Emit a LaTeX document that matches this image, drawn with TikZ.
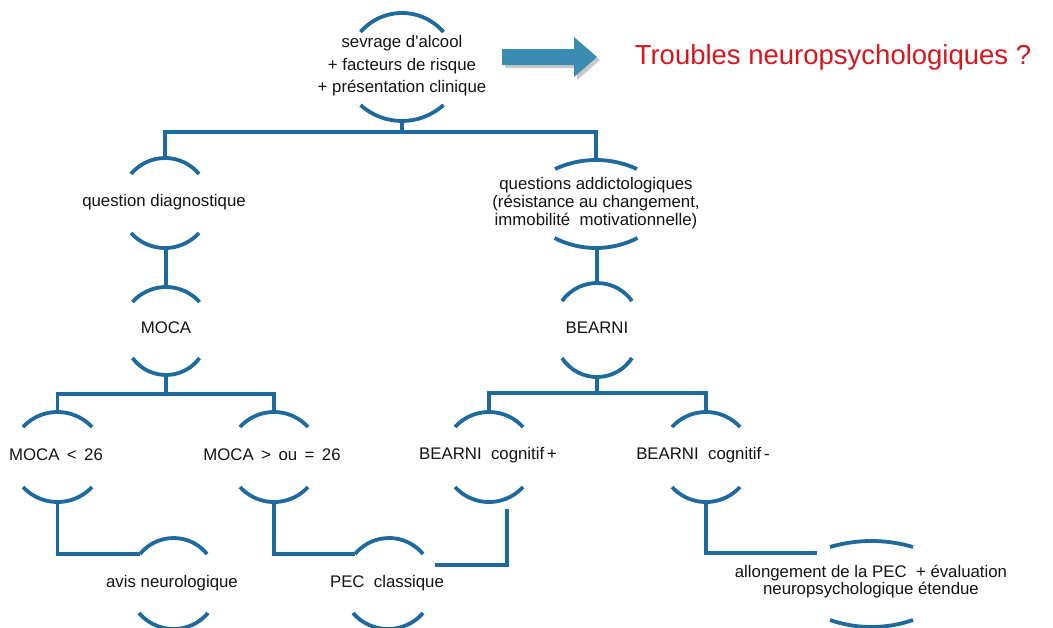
\documentclass[tikz,border=0pt]{standalone}
\usepackage{fontspec}
\setmainfont{Liberation Sans}
\definecolor{lblue}{RGB}{30,106,156}
\definecolor{tred}{RGB}{215,22,30}
\definecolor{arrc}{RGB}{58,140,178}
\definecolor{txtc}{RGB}{20,20,20}
\newcommand\toparc[5]{%
 \pgfmathsetmacro\myrr{(#4*#4+#5*#5)/(2*#5)}%
 \pgfmathsetmacro\myth{asin(#4/\myrr)}%
 \coordinate (#1) at (#2,#3);
 \draw[brk] ({#2-#4},{#3+#5}) arc[start angle={90+\myth}, end angle={90-\myth}, radius=\myrr pt];}
\newcommand\botarc[5]{%
 \pgfmathsetmacro\myrr{(#4*#4+#5*#5)/(2*#5)}%
 \pgfmathsetmacro\myth{asin(#4/\myrr)}%
 \coordinate (#1) at (#2,#3);
 \draw[brk] ({#2-#4},{#3-#5}) arc[start angle={270-\myth}, end angle={270+\myth}, radius=\myrr pt];}
\tikzset{
 brk/.style={draw=lblue, line width=3.8pt},
 conn/.style={draw=lblue, line width=3.6pt, line join=miter},
 txt/.style={text=txtc, align=center, inner sep=0pt, font=\fontsize{16.8}{22.5}\selectfont},
}
\begin{document}
\begin{tikzpicture}[x=1pt,y=-1pt]
\useasboundingbox (0,0) rectangle (1053,627);
\clip (0,0) rectangle (1053,627);
\fill[white] (0,0) rectangle (1053,627);

% arrow and question
\fill[black!35, opacity=0.6] (505,52) -- (577,52) -- (577,40) -- (600,60) -- (577,80) -- (577,68) -- (505,68) -- cycle;
\fill[arrc] (502,49) -- (574,49) -- (574,37) -- (597,57) -- (574,77) -- (574,65) -- (502,65) -- cycle;
\node[text=tred, inner sep=0pt, font=\fontsize{27.5}{30}\selectfont] (q) at (833,57) {Troubles neuropsychologiques ?};

% level 0
\node[txt] (top) at (402,66) {sevrage d\textquotesingle alcool\\+ facteurs de risque\\+ présentation clinique};
\toparc{topT}{402}{13}{41.5}{19}
\botarc{topB}{402}{121}{41.5}{16}

% level 1
\node[txt] (qd) at (164,202) {question diagnostique};
\toparc{qdT}{165}{158}{34}{16}
\botarc{qdB}{165}{248}{34}{15}

\node[txt, font=\fontsize{16.8}{18}\selectfont] (qa) at (596,203) {questions addictologiques\\(résistance au changement,\\immobilité~ motivationnelle)};
\toparc{qaT}{596}{160}{41}{9}
\botarc{qaB}{596}{248}{41.5}{10}

% level 2
\node[txt] (moca) at (166,328) {MOCA};
\toparc{mocaT}{166}{287}{33.5}{15}
\botarc{mocaB}{166}{375}{33.5}{17}

\node[txt] (bearni) at (597,328) {BEARNI};
\toparc{bearniT}{597}{283}{35}{18}
\botarc{bearniB}{597}{377}{35}{19}

% level 3
\node[txt] (m1) at (56,455) {MOCA \,<\, 26};
\toparc{m1T}{57.5}{412}{34.5}{15}
\botarc{m1B}{57.5}{502}{34.5}{15}

\node[txt] (m2) at (272,455) {MOCA \,>\, ou \,=\, 26};
\toparc{m2T}{274}{412}{34}{15}
\botarc{m2B}{274}{502}{34}{15}

\node[txt] (b1) at (488,455) {BEARNI~ cognitif\,+};
\toparc{b1T}{489}{412}{34}{15}
\botarc{b1B}{489}{502}{34}{15}

\node[txt] (b2) at (703,455) {BEARNI~ cognitif\,-};
\toparc{b2T}{706}{412}{34}{15}
\botarc{b2B}{706}{502}{34}{15}

% level 4
\node[txt] (avis) at (172,583) {avis neurologique};
\toparc{avisT}{173.5}{538}{33.5}{16}
\botarc{avisB}{173.5}{629}{34.5}{16}
\coordinate (avisL) at (140,554);

\node[txt] (pec) at (387,583) {PEC~ classique};
\toparc{pecT}{389}{538}{34}{16}
\botarc{pecB}{388}{629}{35}{16}
\coordinate (pecL) at (355,554);

\node[txt, font=\fontsize{16.8}{17}\selectfont] (allo) at (871,582) {allongement de la PEC~ + évaluation\\neuropsychologique étendue};
\toparc{alloT}{871.5}{541}{41.5}{6}
\botarc{alloB}{871.5}{627}{41.5}{7}
\coordinate (alloL) at (817,553);

% buses
\coordinate (bus1) at (402,132);
\coordinate (bus2) at (166,394);
\coordinate (bus3) at (597,393);

\draw[conn] (topB) -- (bus1);
\draw[conn] (qdT) -- (qdT |- bus1) -- (qaT |- bus1) -- (qaT);
\draw[conn] (qdB -| mocaT) -- (mocaT);
\draw[conn] (qaB -| bearniT) -- (bearniT);
\draw[conn] (mocaB) -- (bus2);
\draw[conn] (m1T) -- (m1T |- bus2) -- (m2T |- bus2) -- (m2T);
\draw[conn] (bearniB) -- (bus3);
\draw[conn] (b1T) -- (b1T |- bus3) -- (b2T |- bus3) -- (b2T);

\draw[conn] (m1B) -- (m1B |- avisL) -- (avisL);
\draw[conn] (m2B) -- (m2B |- pecL) -- (pecL);
\coordinate (b1s) at (507,509);
\coordinate (b1e) at (435,565);
\draw[conn] (b1s) -- (b1s |- b1e) -- (b1e);
\draw[conn] (b2B) -- (b2B |- alloL) -- (alloL);
\end{tikzpicture}
\end{document}
